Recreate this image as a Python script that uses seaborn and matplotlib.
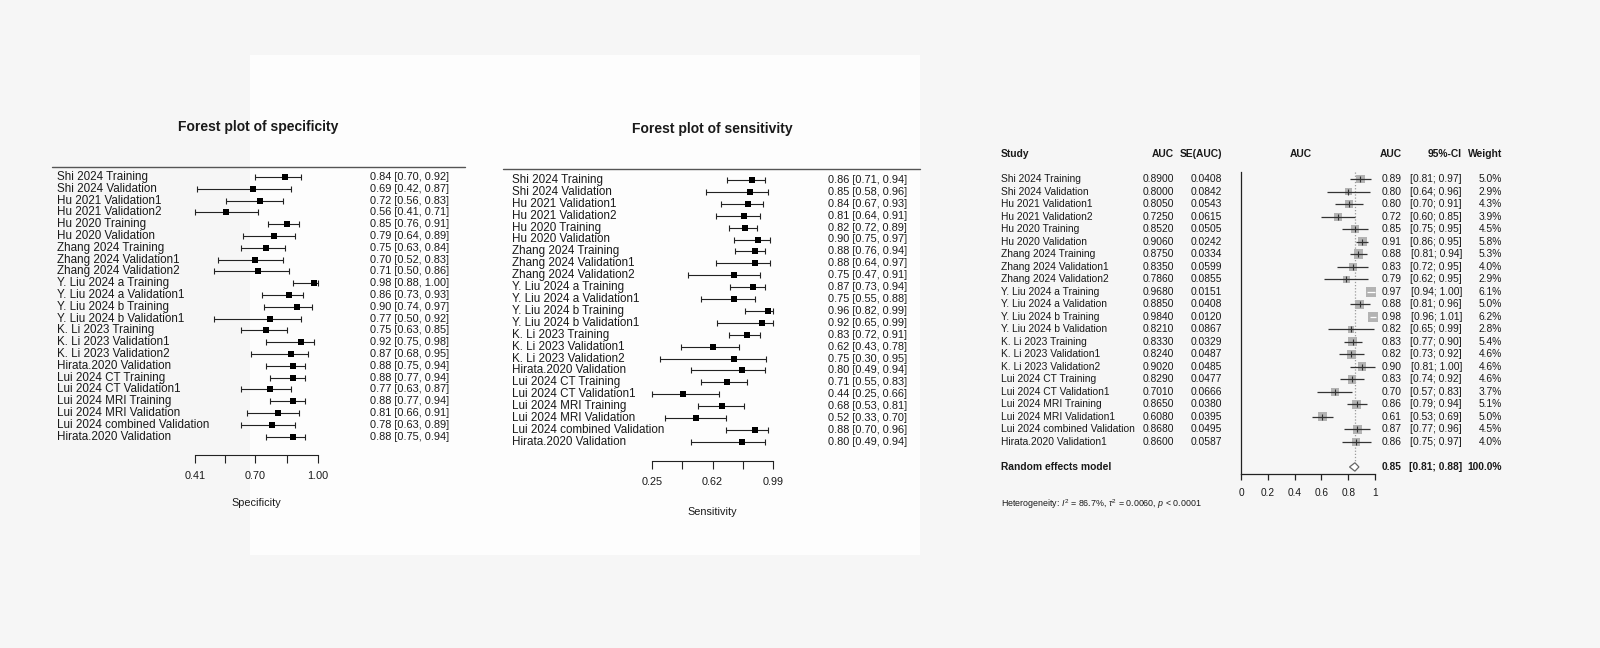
import numpy as np
import pandas as pd
import seaborn as sns
import matplotlib
matplotlib.use("Agg")
import matplotlib.pyplot as plt
import matplotlib.transforms as mtransforms
from matplotlib.lines import Line2D
from matplotlib.patches import Rectangle

# ---------------- data ----------------
study_labels = ["Shi 2024 Training", "Shi 2024 Validation", "Hu 2021 Validation1", "Hu 2021 Validation2",
                "Hu 2020 Training", "Hu 2020 Validation", "Zhang 2024 Training", "Zhang 2024 Validation1",
                "Zhang 2024 Validation2", "Y. Liu 2024 a Training", "Y. Liu 2024 a Validation1",
                "Y. Liu 2024 b Training", "Y. Liu 2024 b Validation1", "K. Li 2023 Training",
                "K. Li 2023 Validation1", "K. Li 2023 Validation2", "Hirata.2020 Validation",
                "Lui 2024 CT Training", "Lui 2024 CT Validation1", "Lui 2024 MRI Training",
                "Lui 2024 MRI Validation", "Lui 2024 combined Validation", "Hirata.2020 Validation"]

spec_est = [0.84, 0.69, 0.72, 0.56, 0.85, 0.79, 0.75, 0.70, 0.71, 0.98, 0.86, 0.90, 0.77, 0.75, 0.92, 0.87,
            0.88, 0.88, 0.77, 0.88, 0.81, 0.78, 0.88]
spec_lo = [0.70, 0.42, 0.56, 0.41, 0.76, 0.64, 0.63, 0.52, 0.50, 0.88, 0.73, 0.74, 0.50, 0.63, 0.75, 0.68,
           0.75, 0.77, 0.63, 0.77, 0.66, 0.63, 0.75]
spec_hi = [0.92, 0.87, 0.83, 0.71, 0.91, 0.89, 0.84, 0.83, 0.86, 1.00, 0.93, 0.97, 0.92, 0.85, 0.98, 0.95,
           0.94, 0.94, 0.87, 0.94, 0.91, 0.89, 0.94]
spec_ticks = [0.41, 0.555, 0.70, 0.85, 1.00]
spec_ticklabels = ["0.41", "", "0.70", "", "1.00"]

sens_est = [0.86, 0.85, 0.84, 0.81, 0.82, 0.90, 0.88, 0.88, 0.75, 0.87, 0.75, 0.96, 0.92, 0.83, 0.62, 0.75,
            0.80, 0.71, 0.44, 0.68, 0.52, 0.88, 0.80]
sens_lo = [0.71, 0.58, 0.67, 0.64, 0.72, 0.75, 0.76, 0.64, 0.47, 0.73, 0.55, 0.82, 0.65, 0.72, 0.43, 0.30,
           0.49, 0.55, 0.25, 0.53, 0.33, 0.70, 0.49]
sens_hi = [0.94, 0.96, 0.93, 0.91, 0.89, 0.97, 0.94, 0.97, 0.91, 0.94, 0.88, 0.99, 0.99, 0.91, 0.78, 0.95,
           0.94, 0.83, 0.66, 0.81, 0.70, 0.96, 0.94]
sens_ticks = [0.25, 0.435, 0.62, 0.805, 0.99]
sens_ticklabels = ["0.25", "", "0.62", "", "0.99"]

auc_labels = ["Shi 2024 Training", "Shi 2024 Validation", "Hu 2021 Validation1", "Hu 2021 Validation2",
              "Hu 2020 Training", "Hu 2020 Validation", "Zhang 2024 Training", "Zhang 2024 Validation1",
              "Zhang 2024 Validation2", "Y. Liu 2024 a Training", "Y. Liu 2024 a Validation",
              "Y. Liu 2024 b Training", "Y. Liu 2024 b Validation", "K. Li 2023 Training",
              "K. Li 2023 Validation1", "K. Li 2023 Validation2", "Lui 2024 CT Training",
              "Lui 2024 CT Validation1", "Lui 2024 MRI Training", "Lui 2024 MRI Validation1",
              "Lui 2024 combined Validation", "Hirata.2020 Validation1"]
auc = [0.8900, 0.8000, 0.8050, 0.7250, 0.8520, 0.9060, 0.8750, 0.8350, 0.7860, 0.9680, 0.8850,
       0.9840, 0.8210, 0.8330, 0.8240, 0.9020, 0.8290, 0.7010, 0.8650, 0.6080, 0.8680, 0.8600]
auc_se = [0.0408, 0.0842, 0.0543, 0.0615, 0.0505, 0.0242, 0.0334, 0.0599, 0.0855, 0.0151, 0.0408,
          0.0120, 0.0867, 0.0329, 0.0487, 0.0485, 0.0477, 0.0666, 0.0380, 0.0395, 0.0495, 0.0587]
auc_disp = [0.89, 0.80, 0.80, 0.72, 0.85, 0.91, 0.88, 0.83, 0.79, 0.97, 0.88, 0.98, 0.82, 0.83, 0.82,
            0.90, 0.83, 0.70, 0.86, 0.61, 0.87, 0.86]
auc_lo = [0.81, 0.64, 0.70, 0.60, 0.75, 0.86, 0.81, 0.72, 0.62, 0.94, 0.81, 0.96, 0.65, 0.77, 0.73,
          0.81, 0.74, 0.57, 0.79, 0.53, 0.77, 0.75]
auc_hi = [0.97, 0.96, 0.91, 0.85, 0.95, 0.95, 0.94, 0.95, 0.95, 1.00, 0.96, 1.01, 0.99, 0.90, 0.92,
          1.00, 0.92, 0.83, 0.94, 0.69, 0.96, 0.97]
auc_weight = [5.0, 2.9, 4.3, 3.9, 4.5, 5.8, 5.3, 4.0, 2.9, 6.1, 5.0, 6.2, 2.8, 5.4, 4.6, 4.6, 4.6, 3.7,
              5.1, 5.0, 4.5, 4.0]
re_est, re_lo, re_hi, re_weight = 0.85, 0.81, 0.88, 100.0
auc_ticks = [0, 0.2, 0.4, 0.6, 0.8, 1.0]
auc_ticklabels = ["0", "0.2", "0.4", "0.6", "0.8", "1"]
het_text = r"Heterogeneity: $I^2$ = 86.7%, $\tau^2$ = 0.0060, $p$ < 0.0001"

# ---------------- style ----------------
sns.set_theme(style="white")
plt.rcParams["font.family"] = ["Liberation Sans", "DejaVu Sans"]
plt.rcParams["mathtext.fontset"] = "custom"
plt.rcParams["mathtext.rm"] = "Liberation Sans"
plt.rcParams["mathtext.it"] = "Liberation Sans:italic"
TXT = "#1a1a1a"

W, H = 1600, 648
fig = plt.figure(figsize=(16, 6.48), dpi=100, facecolor="#f6f6f6")


def fx(p):
    return p / W


def fy(p):
    return 1 - p / H


def add_ax(x0, x1, ytop, ybot):
    ax = fig.add_axes([fx(x0), fy(ybot), (x1 - x0) / W, (ybot - ytop) / H])
    ax.set_facecolor("none")
    return ax


bg = Rectangle((fx(250), fy(555)), 670 / W, 500 / H, transform=fig.transFigure,
               facecolor="#fdfdfd", edgecolor="none", zorder=-10)
fig.add_artist(bg)


def forest_panel(est, lo, hi, ticks, ticklabels, xlabel, title, cfg):
    x0, x1, row0, step, ytop, ybot = cfg["x0"], cfg["x1"], cfg["row0"], cfg["step"], cfg["ytop"], cfg["ybot"]
    ax = add_ax(x0, x1, ytop, ybot)
    df = pd.DataFrame({"label": study_labels, "est": est, "lo": lo, "hi": hi})
    df["row"] = np.arange(len(df))
    ax.errorbar(df["est"], df["row"], xerr=[df["est"] - df["lo"], df["hi"] - df["est"]], fmt="none",
                ecolor="#222222", elinewidth=0.8, capsize=2.4, capthick=0.8, clip_on=False, zorder=2)
    sns.scatterplot(data=df, x="est", y="row", marker="s", color="black", s=cfg["ms"], linewidth=0,
                    ax=ax, zorder=3, legend=False, clip_on=False)
    ax.set_xlim(ticks[0], ticks[-1])
    ax.set_ylim((ybot - row0) / step, (ytop - row0) / step)
    for s in ["top", "left", "right"]:
        ax.spines[s].set_visible(False)
    ax.spines["bottom"].set_color("#222222")
    ax.spines["bottom"].set_linewidth(0.8)
    ax.set_xticks(ticks)
    ax.set_xticklabels(ticklabels)
    ax.tick_params(axis="x", direction="out", length=5.8, width=0.8, color="#222222", pad=6,
                   labelsize=7.8, labelcolor=TXT, bottom=True)
    ax.set_yticks([])
    ax.set_ylabel("")
    ax.set_xlabel(xlabel, fontsize=7.8, color=TXT, labelpad=cfg["labelpad"])
    trans = mtransforms.blended_transform_factory(fig.transFigure, ax.transData)
    for _, r in df.iterrows():
        ax.text(fx(cfg["lab_x"]), r["row"], r["label"], transform=trans, ha="left", va="center",
                fontsize=8.4, color=TXT)
        ax.text(fx(cfg["val_x"]), r["row"], f"{r['est']:.2f} [{r['lo']:.2f}, {r['hi']:.2f}]",
                transform=trans, ha="left", va="center", fontsize=7.9, color=TXT)
    fig.add_artist(Line2D([fx(cfg["rule"][0]), fx(cfg["rule"][1])], [fy(ytop), fy(ytop)],
                          transform=fig.transFigure, color="#555555", lw=1.0))
    fig.text(fx(cfg["title"][0]), fy(cfg["title"][1]), title, ha="center", va="center",
             fontsize=10, fontweight="bold", color=TXT)
    return ax


forest_panel(spec_est, spec_lo, spec_hi, spec_ticks, spec_ticklabels, "Specificity",
             "Forest plot of specificity",
             dict(x0=195, x1=318, row0=177, step=11.8, ytop=167, ybot=455, ms=20, labelpad=12,
                  lab_x=57, val_x=370, rule=(52, 465), title=(258, 127)))
forest_panel(sens_est, sens_lo, sens_hi, sens_ticks, sens_ticklabels, "Sensitivity",
             "Forest plot of sensitivity",
             dict(x0=652, x1=773, row0=180, step=11.9, ytop=169, ybot=461, ms=17, labelpad=14,
                  lab_x=512, val_x=828, rule=(503, 920), title=(712, 129)))

# ---------------- AUC meta-analysis panel ----------------
row0, step, ytop, ybot = 179, 12.52, 172, 474
axA = add_ax(1241, 1375, ytop, ybot)
adf = pd.DataFrame({"label": auc_labels, "auc": auc, "se": auc_se, "disp": auc_disp,
                    "lo": auc_lo, "hi": auc_hi, "weight": auc_weight})
adf["row"] = np.arange(len(adf))
smax = (10 * 0.72) ** 2
sns.scatterplot(data=adf, x="auc", y="row", size="weight", sizes=(0, smax), size_norm=(0, 6.2),
                marker="s", color="#b3b3b3", linewidth=0, ax=axA, zorder=2, legend=False, clip_on=False)
side_px = 10 * np.sqrt(adf["weight"] / 6.2)
ci_px = (adf["hi"] - adf["lo"]) * 134
wide = ci_px >= side_px
line_cols = ["#333333" if w else "white" for w in wide]
axA.hlines(adf["row"], adf["lo"], adf["hi"], colors=line_cols, lw=0.9, zorder=3, clip_on=False)
sns.scatterplot(data=adf[wide], x="auc", y="row", marker="|", color="#333333", s=14, linewidth=0.8,
                ax=axA, zorder=4, legend=False, clip_on=False)
re_row = len(adf) + 1
axA.vlines(re_est, (ytop - row0) / step, re_row - 0.35, colors="#9a9a9a", linestyles=(0, (1, 1.5)),
           lw=0.9, zorder=1)
dh = 4.2 / step
axA.fill([re_lo, re_est, re_hi, re_est], [re_row, re_row - dh, re_row, re_row + dh],
         facecolor="white", edgecolor="#666666", lw=0.9, zorder=3, clip_on=False)
axA.set_xlim(0, 1)
axA.set_ylim((ybot - row0) / step, (ytop - row0) / step)
for s in ["top", "right"]:
    axA.spines[s].set_visible(False)
for s in ["left", "bottom"]:
    axA.spines[s].set_color("#222222")
    axA.spines[s].set_linewidth(0.9)
axA.set_xticks(auc_ticks)
axA.set_xticklabels(auc_ticklabels)
axA.tick_params(axis="x", direction="out", length=4, width=0.9, color="#222222", pad=6,
                labelsize=7.3, labelcolor=TXT, bottom=True)
axA.set_yticks([])
axA.set_xlabel("")
axA.set_ylabel("")

tA = mtransforms.blended_transform_factory(fig.transFigure, axA.transData)
fsA = 7.4
for _, r in adf.iterrows():
    y = r["row"]
    axA.text(fx(1001), y, r["label"], transform=tA, ha="left", va="center", fontsize=fsA, color=TXT)
    axA.text(fx(1174), y, f"{r['auc']:.4f}", transform=tA, ha="right", va="center", fontsize=fsA, color=TXT)
    axA.text(fx(1222), y, f"{r['se']:.4f}", transform=tA, ha="right", va="center", fontsize=fsA, color=TXT)
    axA.text(fx(1402), y, f"{r['disp']:.2f}", transform=tA, ha="right", va="center", fontsize=fsA, color=TXT)
    axA.text(fx(1462), y, f"[{r['lo']:.2f}; {r['hi']:.2f}]", transform=tA, ha="right", va="center",
             fontsize=fsA, color=TXT)
    axA.text(fx(1502), y, f"{r['weight']:.1f}%", transform=tA, ha="right", va="center", fontsize=fsA, color=TXT)

axA.text(fx(1001), re_row, "Random effects model", transform=tA, ha="left", va="center",
         fontsize=fsA, fontweight="bold", color=TXT)
axA.text(fx(1402), re_row, f"{re_est:.2f}", transform=tA, ha="right", va="center", fontsize=fsA,
         fontweight="bold", color=TXT)
axA.text(fx(1462), re_row, f"[{re_lo:.2f}; {re_hi:.2f}]", transform=tA, ha="right", va="center",
         fontsize=fsA, fontweight="bold", color=TXT)
axA.text(fx(1502), re_row, f"{re_weight:.1f}%", transform=tA, ha="right", va="center", fontsize=fsA,
         fontweight="bold", color=TXT)

hy = fy(154)
for x, s, ha in [(1001, "Study", "left"), (1174, "AUC", "right"), (1222, "SE(AUC)", "right"),
                 (1301, "AUC", "center"), (1402, "AUC", "right"), (1462, "95%-CI", "right"),
                 (1502, "Weight", "right")]:
    fig.text(fx(x), hy, s, ha=ha, va="center", fontsize=fsA, fontweight="bold", color=TXT)
fig.text(fx(1001), fy(504), het_text, ha="left", va="center", fontsize=6.4, color=TXT)

fig.savefig("out.png", dpi=100, facecolor=fig.get_facecolor())
